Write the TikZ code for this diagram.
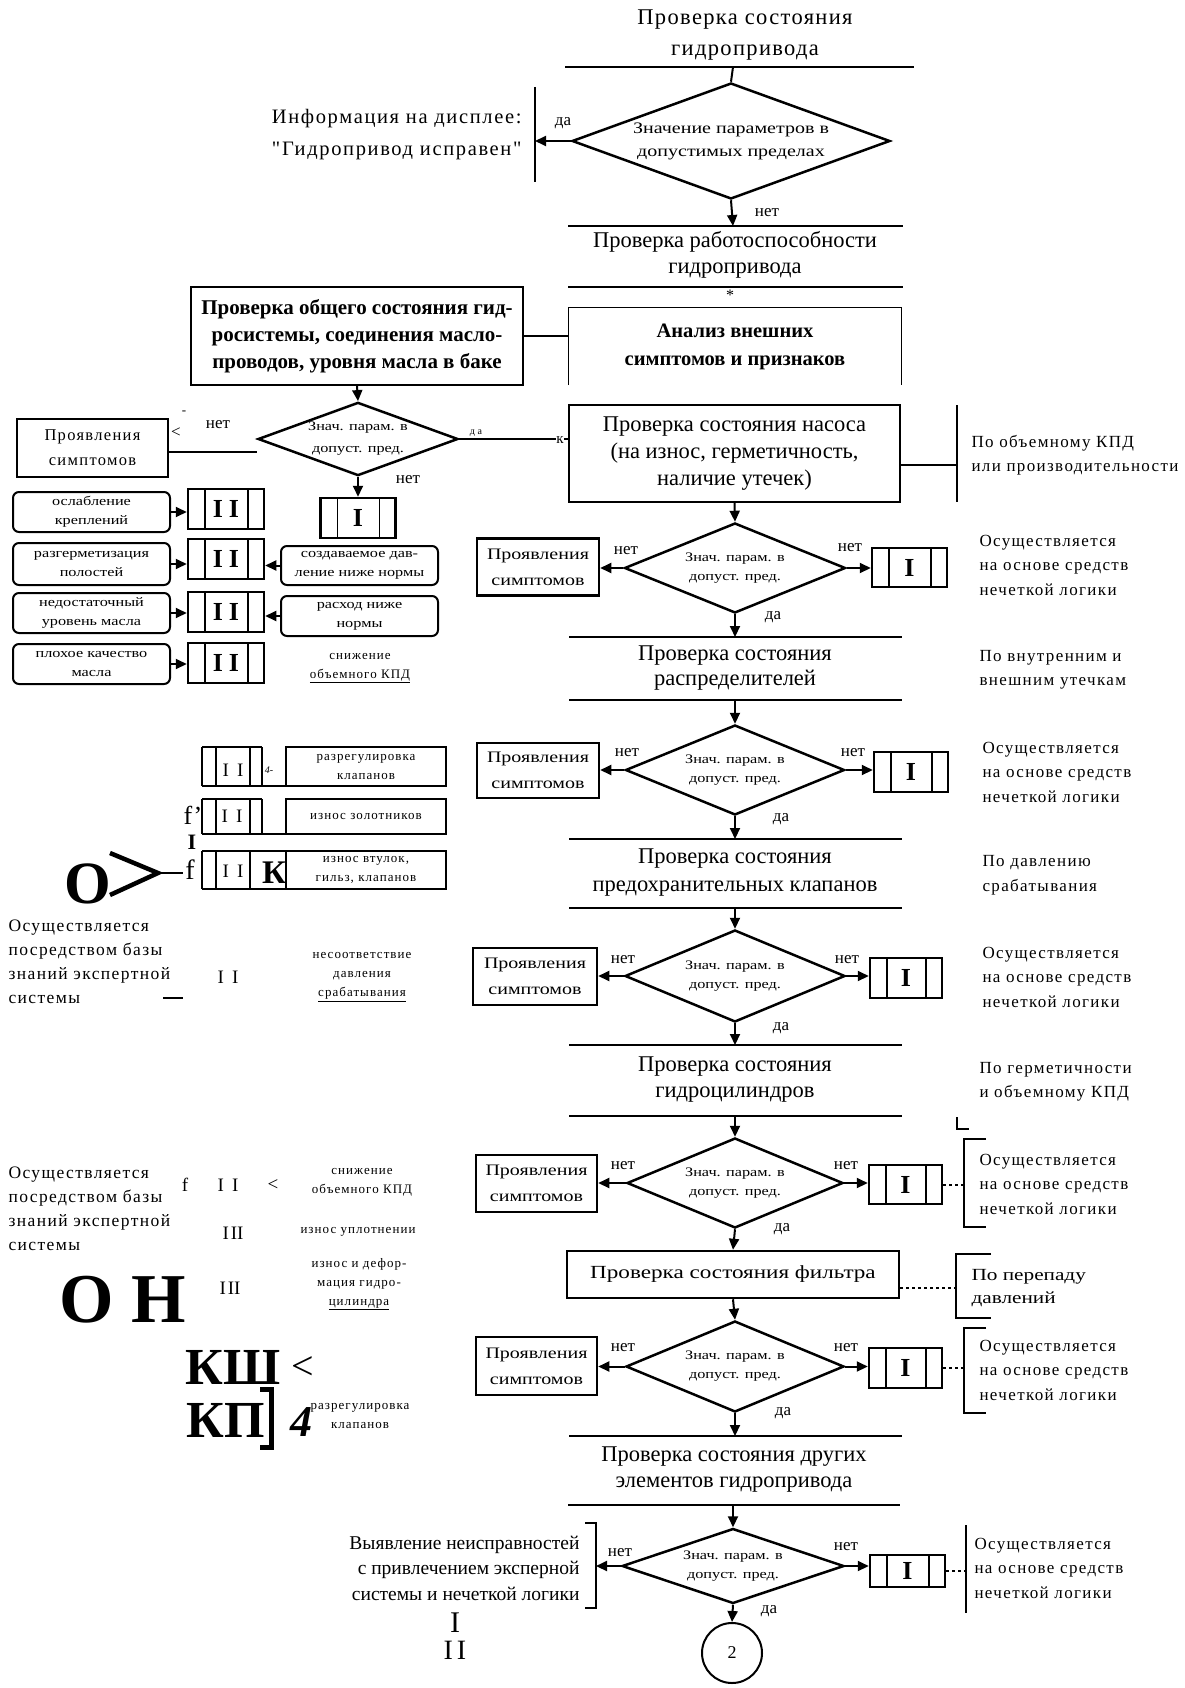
\documentclass[tikz,border=0pt]{standalone}
\usepackage{fontspec}
\setmainfont{Liberation Serif}
\newfontfamily\spacedfont[LetterSpace=8]{Liberation Serif}
\newfontfamily\headfont[LetterSpace=6]{Liberation Serif}
\newfontfamily\widefont[FakeStretch=1.25]{Liberation Serif}
\usetikzlibrary{shapes,arrows.meta,positioning,calc}

\tikzset{
	headtext/.style={align=center, font=\fontsize{22.5}{27}\selectfont},
	note/.style={anchor=west, align=left, font=\spacedfont\fontsize{17}{24.5}\selectfont},
	lbl/.style={inner sep=0pt, font=\fontsize{17}{17}\selectfont},
	small/.style={align=center, font=\spacedfont\fontsize{13}{19}\selectfont},
	check/.style={draw, diamond, aspect=2.5, inner sep=0pt, line width=2.5pt, align=center, font=\widefont\fontsize{13}{19}\selectfont},
	symbox/.style={draw, line width=2.5pt, minimum width=122pt, minimum height=57pt, inner sep=0pt, align=center, font=\widefont\fontsize{16}{26}\selectfont},
	ibox/.style={draw, line width=2.5pt, minimum width=75pt, minimum height=40pt, inner sep=0pt, font=\bfseries\fontsize{26}{26}\selectfont,
		path picture={\draw[line width=1.5pt] ([xshift=17pt]path picture bounding box.north west) -- ([xshift=17pt]path picture bounding box.south west)
			([xshift=-16pt]path picture bounding box.north east) -- ([xshift=-16pt]path picture bounding box.south east);}},
	cause/.style={draw, line width=2pt, rounded corners=6pt, minimum width=157pt, minimum height=40pt, inner sep=0pt, align=center, font=\widefont\fontsize{13}{19}\selectfont},
	bar/.style={line width=2.5pt},
	thinbar/.style={line width=1.2pt},
	link/.style={line width=1.2pt},
	arr/.style={line width=2pt, -{Triangle[length=11pt,width=10pt]}},
	dotlink/.style={line width=2pt, dashed},
	brk/.style={line width=2pt},
}

\begin{document}
\begin{tikzpicture}[x=1pt,y=-1pt]
	\useasboundingbox (0,0) rectangle (1184,1688);

	% Draw start of the check
	\node[headtext, font=\headfont\fontsize{22.5}{31}\selectfont] (t0) at (745,35) {Проверка состояния\\гидропривода};
	\draw[bar] (565,67) -- (914,67);
	\coordinate (b0) at (733,67);
	\node[check, minimum width=318pt, minimum height=116pt, font=\widefont\fontsize{16}{23}\selectfont] (d0) at (731,141) {Значение параметров в\\допустимых пределах};
	\draw[line width=2pt] (b0) -- (d0.north);
	\draw[link] (535,87) -- (535,182);
	\coordinate (v0) at (535,141);
	\draw[arr] (d0.west) -- (v0);
	\node[lbl] (da0) at (563,123) {да};
	\node[anchor=east, align=right, font=\spacedfont\fontsize{20.5}{32}\selectfont] (info) at (525,135) {Информация на дисплее:\\"Гидропривод исправен"};
	\coordinate (b1) at (733,226);
	\draw[arr] (d0.south) -- (b1);
	\node[lbl] (n0) at (767,213) {нет};
	\draw[bar] (568,226) -- (903,226);
	\node[headtext, font=\fontsize{22.5}{26}\selectfont] (t1) at (735,255) {Проверка работоспособности\\гидропривода};
	\draw[thinbar] (568,287) -- (903,287);
	\node[font=\fontsize{16}{16}\selectfont, inner sep=0pt] (star) at (730,295) {*};

	% Draw general check of the system
	\node[minimum width=332pt, minimum height=77pt, inner sep=0pt, align=center, font=\bfseries\fontsize{20.5}{28}\selectfont] (an) at (735,346.5) {Анализ внешних\\симптомов и признаков};
	\draw[link] (an.south west) -- (an.north west) -- (an.north east) -- (an.south east);
	\node[draw, line width=1.5pt, minimum width=332pt, minimum height=98pt, align=center, font=\bfseries\fontsize{21}{27}\selectfont] (gb) at (357,336) {Проверка общего состояния гид-\\росистемы, соединения масло-\\проводов, уровня масла в баке};
	\draw[link] (gb.east) -- (gb.east -| an.west);
	\node[check, minimum width=200pt, minimum height=66pt, font=\widefont\fontsize{13}{22}\selectfont] (d1) at (358,439) {Знач. парам. в\\допуст. пред.};
	\draw[arr] (gb.south) -- (d1.north);
	\node[draw, line width=1.5pt, minimum width=331pt, minimum height=97pt, headtext] (pb) at (734.5,453.5) {Проверка состояния насоса\\(на износ, герметичность,\\наличие утечек)};
	\draw[link] (d1.east) -- (d1.east -| pb.west);
	\node[inner sep=0pt, font=\fontsize{10}{10}\selectfont] (da1) at (476,433) {д а};
	\node[inner sep=0pt, fill=white, font=\fontsize{15}{15}\selectfont] (k1) at (560,440) {к};
	\node[draw, line width=1.2pt, minimum width=151pt, minimum height=58pt, align=center, font=\spacedfont\fontsize{16.5}{25}\selectfont] (pr0) at (92.5,448) {Проявления\\симптомов};
	\coordinate (d1w) at ([yshift=-13pt]d1.west);
	\draw[link] (d1w) -- (d1w -| pr0.east);
	\node[lbl] (n1) at (218,425) {нет};
	\node[lbl] (lt0) at (176,433) {<};
	\node[lbl, font=\fontsize{13}{13}\selectfont] (dh0) at (184,413) {-};
	\node[ibox] (i0) at (358,518) {I};
	\draw[arr] (d1.south) -- (i0.north);
	\node[lbl] (n2) at (408,480) {нет};

	% Draw causes of the general check
	\node[cause] (s1) at (91.5,512) {ослабление\\креплений};
	\node[cause, minimum height=42pt] (s2) at (91.5,564) {разгерметизация\\полостей};
	\node[cause] (s3) at (91.5,613) {недостаточный\\уровень масла};
	\node[cause] (s4) at (91.5,664) {плохое качество\\масла};
	\node[ibox, minimum width=76pt] (ii1) at (226,509) {I\hspace{6pt}I};
	\node[ibox, minimum width=76pt] (ii2) at (226,559) {I\hspace{6pt}I};
	\node[ibox, minimum width=76pt] (ii3) at (226,612) {I\hspace{6pt}I};
	\node[ibox, minimum width=76pt] (ii4) at (226,663) {I\hspace{6pt}I};
	\draw[arr] (s1.east) -- (s1.east -| ii1.west);
	\draw[arr] (s2.east) -- (s2.east -| ii2.west);
	\draw[arr] (s3.east) -- (s3.east -| ii3.west);
	\draw[arr] (s4.east) -- (s4.east -| ii4.west);
	\node[cause, minimum height=39pt] (c1) at (359.5,565.5) {создаваемое дав-\\ление ниже нормы};
	\node[cause] (c2) at (359.5,616) {расход ниже\\нормы};
	\draw[arr] (c1.west) -- (c1.west -| ii2.east);
	\draw[arr] (c2.west) -- (c2.west -| ii3.east);
	\node[small] (kpd0) at (360,668) {снижение\\\underline{объемного КПД}};

	% Draw pump check
	\draw[link] (957,405) -- (957,502);
	\coordinate (pv) at (957,465);
	\draw[link] (pb.east |- pv) -- (pv);
	\node[note] (np) at (968,455) {По объемному КПД\\или производительности};
	\node[check, minimum width=221pt, minimum height=90pt] (d2) at (735,568) {Знач. парам. в\\допуст. пред.};
	\draw[arr] (pb.south) -- (d2.north);
	\node[symbox] (p2) at (538,567) {Проявления\\симптомов};
	\node[ibox, minimum height=39pt] (i2) at (909.5,567.5) {I};
	\draw[arr] (d2.west) -- (d2.west -| p2.east);
	\draw[arr] (d2.east) -- (d2.east -| i2.west);
	\node[lbl] (n3) at (626,551) {нет};
	\node[lbl] (n4) at (850,548) {нет};
	\node[lbl] (da2) at (773,617) {да};
	\node[note] (f2) at (976,565) {Осуществляется\\на основе средств\\нечеткой логики};
	\coordinate (b3) at (735,637);
	\draw[arr] (d2.south) -- (b3);
	\draw[bar] (569,637) -- (902,637);

	% Draw distributor check
	\node[headtext, font=\fontsize{22.5}{25}\selectfont] (t3) at (735,668) {Проверка состояния\\распределителей};
	\node[note] (nd) at (976,670) {По внутренним и\\внешним утечкам};
	\draw[bar] (569,700) -- (902,700);
	\coordinate (b4) at (735,700);
	\node[check, minimum width=219pt, minimum height=90pt] (d3) at (735,770) {Знач. парам. в\\допуст. пред.};
	\draw[arr] (b4) -- (d3.north);
	\node[symbox, minimum height=55pt] (p3) at (538,770.5) {Проявления\\симптомов};
	\node[ibox, minimum width=74pt] (i3) at (911,772) {I};
	\draw[arr] (d3.west) -- (d3.west -| p3.east);
	\draw[arr] (d3.east) -- (d3.east -| i3.west);
	\node[lbl] (n5) at (627,753) {нет};
	\node[lbl] (n6) at (853,753) {нет};
	\node[lbl] (da3) at (781,819) {да};
	\node[note] (f3) at (979,772) {Осуществляется\\на основе средств\\нечеткой логики};
	\coordinate (b5) at (735,839);
	\draw[arr] (d3.south) -- (b5);
	\draw[bar] (569,839) -- (902,839);

	% Draw relief valve check
	\node[headtext, font=\fontsize{22.5}{28}\selectfont] (t5) at (735,873) {Проверка состояния\\предохранительных клапанов};
	\node[note] (nv) at (979,875) {По давлению\\срабатывания};
	\draw[bar] (569,908) -- (902,908);
	\coordinate (b6) at (735,908);
	\node[check, minimum width=220pt, minimum height=92pt] (d4) at (735,976) {Знач. парам. в\\допуст. пред.};
	\draw[arr] (b6) -- (d4.north);
	\node[symbox, minimum width=124pt] (p4) at (535,976.5) {Проявления\\симптомов};
	\node[ibox, minimum width=72pt] (i4) at (906,978) {I};
	\draw[arr] (d4.west) -- (d4.west -| p4.east);
	\draw[arr] (d4.east) -- (d4.east -| i4.west);
	\node[lbl] (n7) at (623,960) {нет};
	\node[lbl] (n8) at (847,960) {нет};
	\node[lbl] (da4) at (781,1028) {да};
	\node[note] (f4) at (979,977) {Осуществляется\\на основе средств\\нечеткой логики};
	\coordinate (b7) at (735,1045);
	\draw[arr] (d4.south) -- (b7);
	\draw[bar] (569,1045) -- (902,1045);

	% Draw cylinder check
	\node[headtext, font=\fontsize{22.5}{26}\selectfont] (t7) at (735,1080) {Проверка состояния\\гидроцилиндров};
	\node[note] (nc) at (976,1082) {По герметичности\\и объемному КПД};
	\draw[line width=1.5pt] (569,1116) -- (902,1116);
	\coordinate (b8) at (735,1116);
	\draw[line width=2.5pt] (957,1117) -- (957,1129) -- (969,1129);
	\node[check, minimum width=216pt, minimum height=90pt] (d5) at (735,1183) {Знач. парам. в\\допуст. пред.};
	\draw[arr] (b8) -- (d5.north);
	\node[symbox, minimum width=121pt] (p5) at (536.5,1183.5) {Проявления\\симптомов};
	\node[ibox, minimum width=73pt, minimum height=39pt] (i5) at (905.5,1184.5) {I};
	\draw[arr] (d5.west) -- (d5.west -| p5.east);
	\draw[arr] (d5.east) -- (d5.east -| i5.west);
	\node[lbl] (n9) at (623,1166) {нет};
	\node[lbl] (n10) at (846,1166) {нет};
	\node[lbl] (da5) at (782,1229) {да};
	\draw[brk] (986,1139) -- (964,1139) -- (964,1227) -- (986,1227);
	\coordinate (k5) at (964,1184.5);
	\draw[dotlink] (i5.east) -- (k5);
	\node[note] (f5) at (976,1184) {Осуществляется\\на основе средств\\нечеткой логики};

	% Draw filter check
	\node[draw, line width=2.5pt, minimum width=332pt, minimum height=47pt, font=\widefont\fontsize{18.5}{18.5}\selectfont] (fb) at (733,1274.5) {Проверка состояния фильтра};
	\draw[arr] (d5.south) -- (fb.north);
	\draw[brk] (991,1254) -- (956,1254) -- (956,1318) -- (991,1318);
	\coordinate (k6) at (956,1288);
	\draw[dotlink] (fb.east |- k6) -- (k6);
	\node[anchor=west, align=left, font=\widefont\fontsize{17}{23}\selectfont] (nf) at (968,1288) {По перепаду\\давлений};
	\node[check, minimum width=218pt, minimum height=91pt] (d6) at (735,1366.5) {Знач. парам. в\\допуст. пред.};
	\draw[arr] (fb.south) -- (d6.north);
	\node[symbox, minimum width=121pt, minimum height=58pt] (p6) at (536.5,1366) {Проявления\\симптомов};
	\node[ibox, minimum width=73pt] (i6) at (905.5,1368) {I};
	\draw[arr] (d6.west) -- (d6.west -| p6.east);
	\draw[arr] (d6.east) -- (d6.east -| i6.west);
	\node[lbl] (n11) at (623,1348) {нет};
	\node[lbl] (n12) at (846,1348) {нет};
	\node[lbl] (da6) at (783,1413) {да};
	\draw[brk] (986,1328) -- (964,1328) -- (964,1413) -- (986,1413);
	\coordinate (k7) at (964,1368);
	\draw[dotlink] (i6.east) -- (k7);
	\node[note] (f6) at (976,1370) {Осуществляется\\на основе средств\\нечеткой логики};
	\coordinate (b9) at (735,1436);
	\draw[arr] (d6.south) -- (b9);
	\draw[line width=1.5pt] (569,1436) -- (902,1436);

	% Draw other elements check
	\node[headtext, font=\fontsize{22.5}{26}\selectfont] (t9) at (734,1470) {Проверка состояния других\\элементов гидропривода};
	\draw[bar] (568,1505) -- (900,1505);
	\coordinate (b10) at (733,1505);
	\node[check, minimum width=222pt, minimum height=75pt] (d7) at (733,1566) {Знач. парам. в\\допуст. пред.};
	\draw[arr] (b10) -- (d7.north);
	\draw[brk] (585,1523) -- (596,1523) -- (596,1608) -- (585,1608);
	\coordinate (k8) at (596,1566);
	\draw[arr] (d7.west) -- (k8);
	\node[anchor=east, align=right, font=\fontsize{19.5}{25.5}\selectfont] (ex) at (583,1568) {Выявление неисправностей\\с привлечением эксперной\\системы и нечеткой логики};
	\node[ibox, minimum height=32pt] (i7) at (907.5,1571) {I};
	\draw[arr] (d7.east) -- (d7.east -| i7.west);
	\node[lbl] (n13) at (620,1553) {нет};
	\node[lbl] (n14) at (846,1547) {нет};
	\node[lbl] (da7) at (769,1611) {да};
	\draw[link] (966,1525) -- (966,1613);
	\coordinate (k9) at (966,1571);
	\draw[dotlink] (i7.east) -- (k9);
	\node[note] (f7) at (971,1568) {Осуществляется\\на основе средств\\нечеткой логики};
	\node[draw, circle, line width=2pt, minimum size=60pt, inner sep=0pt, font=\fontsize{18}{18}\selectfont] (end) at (732,1653) {2};
	\draw[arr] (d7.south) -- (end.north);
	\node[font=\fontsize{30}{30}\selectfont, inner sep=0pt] (g1) at (455,1623) {I};
	\node[font=\fontsize{28}{28}\selectfont, inner sep=0pt] (g2) at (455,1650) {I\hspace{4pt}I};

	% Draw valve faults
	\draw[link] (202,747) -- (262,747) (202,786) -- (286,786);
	\draw[link] (202,747) -- (202,786) (216,747) -- (216,786) (250,747) -- (250,786) (262,747) -- (262,786);
	\node[draw, link, minimum width=160pt, minimum height=39pt, inner sep=0pt, small] (r1) at (366,766.5) {разрегулировка\\клапанов};
	\node[font=\fontsize{19}{19}\selectfont, inner sep=0pt] (q1) at (233,770) {I\hspace{8pt}I};
	\node[font=\itshape\fontsize{10}{10}\selectfont, inner sep=0pt] (q1a) at (269,770) {4-};
	\draw[link] (202,799) -- (262,799) (202,834) -- (286,834);
	\draw[link] (202,799) -- (202,834) (216,799) -- (216,834) (250,799) -- (250,834) (262,799) -- (262,834);
	\node[draw, link, minimum width=160pt, minimum height=35pt, inner sep=0pt, small] (r2) at (366,816.5) {износ золотников};
	\node[font=\fontsize{19}{19}\selectfont, inner sep=0pt] (q2) at (232,816) {I\hspace{8pt}I};
	\draw[link] (202,851) -- (286,851) (202,889) -- (286,889);
	\draw[link] (202,851) -- (202,889) (216,851) -- (216,889) (250,851) -- (250,889);
	\node[draw, link, minimum width=160pt, minimum height=38pt, inner sep=0pt, small] (r3) at (366,870) {износ втулок,\\гильз, клапанов};
	\node[font=\fontsize{19}{19}\selectfont, inner sep=0pt] (q3) at (233,871) {I\hspace{8pt}I};
	\node[font=\bfseries\fontsize{33}{33}\selectfont, inner sep=0pt] (q3k) at (274,873) {К};
	\node[font=\fontsize{26}{26}\selectfont, inner sep=0pt] (fa) at (193,815) {f'};
	\node[font=\bfseries\fontsize{22}{22}\selectfont, inner sep=0pt] (fb2) at (192,842) {I};
	\node[font=\fontsize{28}{28}\selectfont, inner sep=0pt] (fc) at (190,870) {f};
	\node[font=\bfseries\fontsize{60}{60}\selectfont, inner sep=0pt] (bigo) at (88,884) {O};
	\draw[line width=4.5pt] (110,853) -- (158,873) -- (110,895);
	\draw[link] (158,873) -- (183,873);
	\node[note, font=\spacedfont\fontsize{17.5}{24}\selectfont] (es1) at (5,962) {Осуществляется\\посредством базы\\знаний экспертной\\системы};
	\draw[link] (163,998) -- (183,998);
	\node[font=\fontsize{19}{19}\selectfont, inner sep=0pt] (q4) at (228,977) {I\hspace{8pt}I};
	\node[small] (r4) at (362,977) {несоответствие\\давления\\\underline{срабатывания}};

	% Draw cylinder faults
	\node[note, font=\spacedfont\fontsize{17.5}{24}\selectfont] (es2) at (5,1209) {Осуществляется\\посредством базы\\знаний экспертной\\системы};
	\node[font=\fontsize{19}{19}\selectfont, inner sep=0pt] (fd) at (185,1185) {f};
	\node[font=\fontsize{19}{19}\selectfont, inner sep=0pt] (q5) at (228,1185) {I\hspace{8pt}I};
	\node[font=\fontsize{19}{19}\selectfont, inner sep=0pt] (lt5) at (273,1185) {<};
	\node[small] (r5) at (362,1182) {снижение\\объемного КПД};
	\node[font=\fontsize{19}{19}\selectfont, inner sep=0pt] (q6) at (233,1233) {I\hspace{2pt}II};
	\node[small] (r6) at (358,1232) {износ уплотнении};
	\node[font=\fontsize{19}{19}\selectfont, inner sep=0pt] (q7) at (230,1288) {I\hspace{2pt}II};
	\node[small] (r7) at (359,1284) {износ и дефор-\\мация гидро-\\\underline{цилиндра}};
	\node[font=\bfseries\fontsize{70}{70}\selectfont, inner sep=0pt] (bigon) at (122.5,1300) {О Н};
	\node[font=\bfseries\fontsize{52}{52}\selectfont, inner sep=0pt] (ksh) at (233,1367) {КШ};
	\node[font=\fontsize{40}{40}\selectfont, inner sep=0pt] (lt6) at (303,1368) {<};
	\node[font=\bfseries\fontsize{52}{52}\selectfont, inner sep=0pt] (kp) at (226,1420) {КП};
	\draw[line width=5pt] (260,1389) -- (271,1389) -- (271,1447) -- (260,1447);
	\node[font=\bfseries\itshape\fontsize{44}{44}\selectfont, inner sep=0pt] (four) at (301,1422) {4};
	\node[small] (r8) at (360,1416) {разрегулировка\\клапанов};
\end{tikzpicture}
\end{document}
